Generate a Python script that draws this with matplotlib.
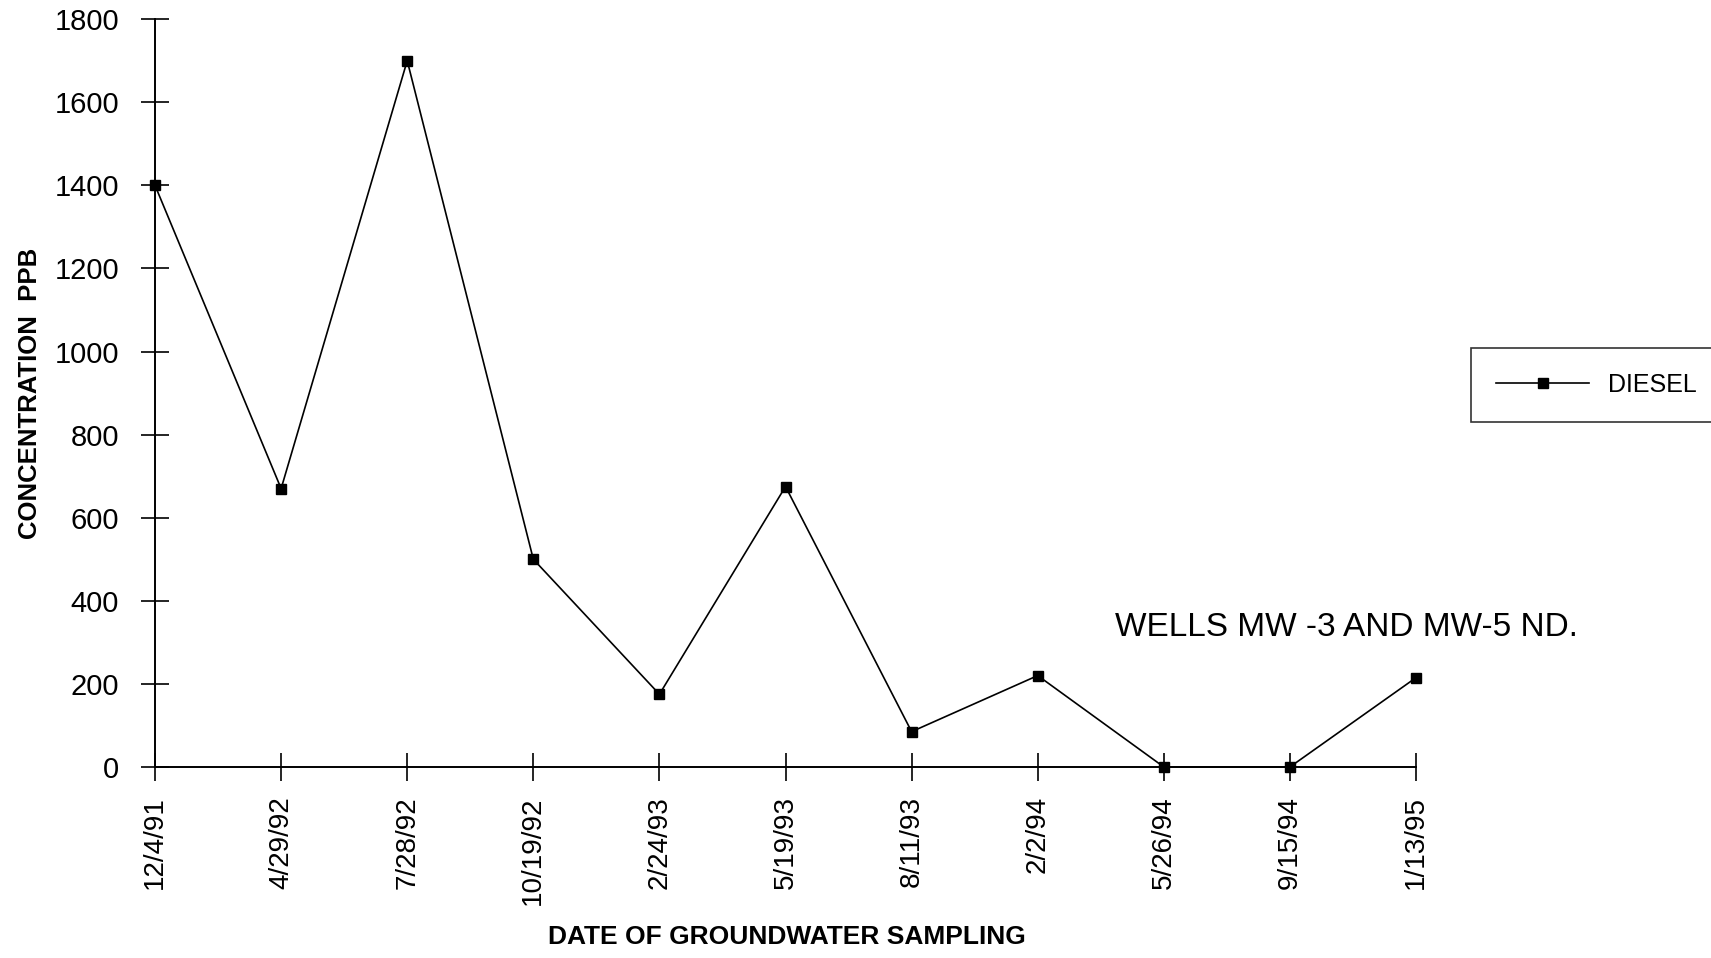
import matplotlib.pyplot as plt

plt.rcParams['font.family'] = ['Liberation Sans', 'DejaVu Sans']

# groundwater sampling dates and diesel concentration (ppb)
dates = ['12/4/91', '4/29/92', '7/28/92', '10/19/92', '2/24/93', '5/19/93',
         '8/11/93', '2/2/94', '5/26/94', '9/15/94', '1/13/95']
diesel = [1400, 670, 1700, 500, 175, 675, 85, 220, 0, 0, 215]
yticks = [0, 200, 400, 600, 800, 1000, 1200, 1400, 1600, 1800]

fig = plt.figure(figsize=(17.11, 9.58), dpi=100)
ax = fig.add_axes([0.0906, 0.1994, 0.737, 0.7806])

xs = list(range(len(dates)))
ax.plot(xs, diesel, color='black', linewidth=1.2, marker='s', markersize=7.5,
        markerfacecolor='black', markeredgecolor='black', label='DIESEL',
        clip_on=False, zorder=3)

ax.set_xlim(0, len(dates) - 1)
ax.set_ylim(0, 1800)
ax.set_yticks(yticks)
ax.set_xticks(xs)
ax.set_xticklabels(dates, rotation=90, fontsize=20)
ax.tick_params(axis='y', labelsize=21, direction='inout', length=20, width=1.2, pad=16)
ax.tick_params(axis='x', direction='inout', length=20, width=1.2, pad=11)

for side in ['top', 'right']:
    ax.spines[side].set_visible(False)
for side in ['left', 'bottom']:
    ax.spines[side].set_linewidth(1.4)

ax.set_ylabel('CONCENTRATION  PPB', fontsize=18.5, fontweight='bold', labelpad=9)
fig.text(0.46, 0.009, 'DATE OF GROUNDWATER SAMPLING', fontsize=19,
         fontweight='bold', ha='center', va='bottom')

ax.text(0.761, 0.186, 'WELLS MW -3 AND MW-5 ND.', fontsize=24,
        transform=ax.transAxes, ha='left', va='center')

leg = ax.legend(loc='center left', bbox_to_anchor=(0.860, 0.598),
                bbox_transform=fig.transFigure, fontsize=18, frameon=True,
                fancybox=False, edgecolor='black', handlelength=3.7,
                handletextpad=0.75, borderpad=1.0, borderaxespad=0)
leg.get_frame().set_linewidth(1.2)

fig.savefig('out.png', dpi=100)
